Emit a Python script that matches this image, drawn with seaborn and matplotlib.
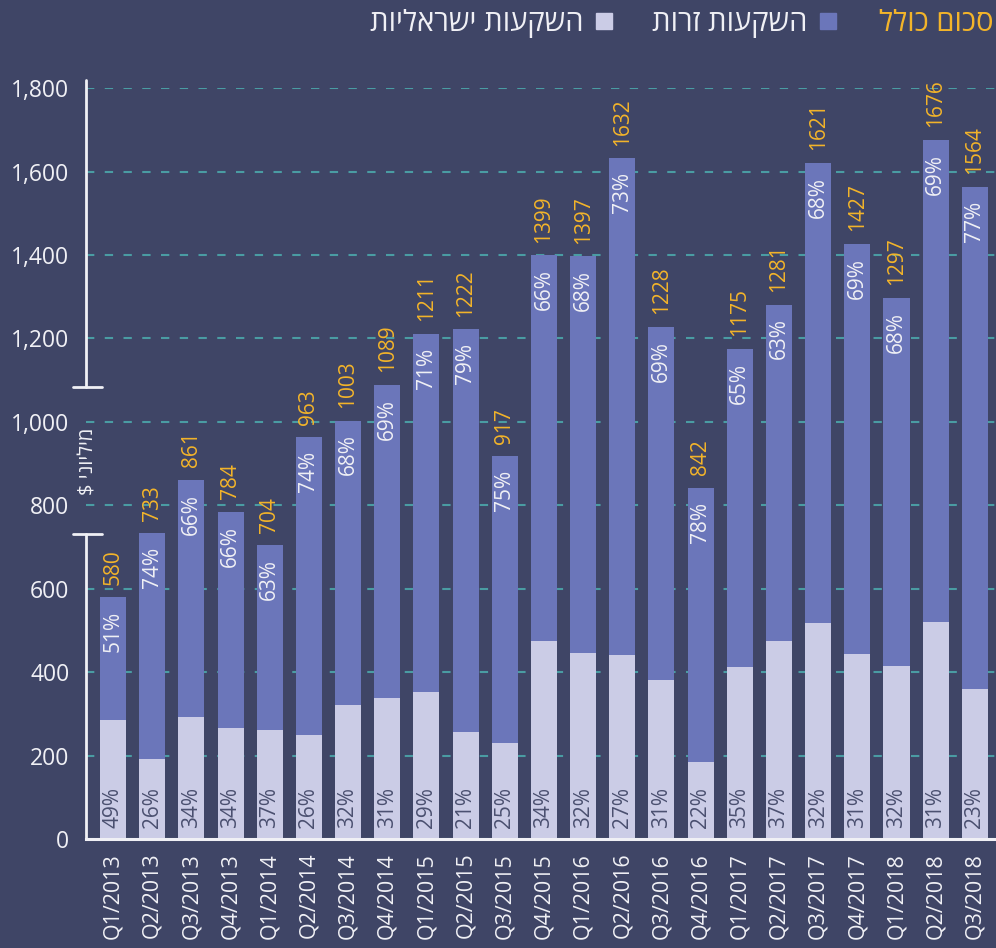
import numpy as np
import pandas as pd
import seaborn as sns
import matplotlib.pyplot as plt
from matplotlib.lines import Line2D

quarters = ['Q1/2013', 'Q2/2013', 'Q3/2013', 'Q4/2013', 'Q1/2014', 'Q2/2014', 'Q3/2014', 'Q4/2014',
            'Q1/2015', 'Q2/2015', 'Q3/2015', 'Q4/2015', 'Q1/2016', 'Q2/2016', 'Q3/2016', 'Q4/2016',
            'Q1/2017', 'Q2/2017', 'Q3/2017', 'Q4/2017', 'Q1/2018', 'Q2/2018', 'Q3/2018']
totals = [580, 733, 861, 784, 704, 963, 1003, 1089, 1211, 1222, 917, 1399,
          1397, 1632, 1228, 842, 1175, 1281, 1621, 1427, 1297, 1676, 1564]
foreign_pct = [51, 74, 66, 66, 63, 74, 68, 69, 71, 79, 75, 66,
               68, 73, 69, 78, 65, 63, 68, 69, 68, 69, 77]
israeli_pct = [49, 26, 34, 34, 37, 26, 32, 31, 29, 21, 25, 34,
               32, 27, 31, 22, 35, 37, 32, 31, 32, 31, 23]

label_total = 'סכום כולל'
label_foreign = 'השקעות זרות'
label_israeli = 'השקעות ישראליות'
label_y = 'מיליוני $'

df = pd.DataFrame({'quarter': quarters, 'total': totals,
                   'foreign_pct': foreign_pct, 'israeli_pct': israeli_pct})
df['israeli'] = df['total'] * df['israeli_pct'] / 100


def rtl(s):
    # matplotlib has no bidi support, so flip Hebrew to visual order
    return s[::-1]


bg = '#3f4566'
blue = '#6b76ba'
light = '#cbcce6'
orange = '#f3b42a'
grid = '#4a9ca3'
white = '#f0f0f5'
dark = '#4b5070'

sns.set_style('white')
plt.rcParams['font.family'] = ['Open Sans', 'DejaVu Sans']

fig = plt.figure(figsize=(9.96, 9.48), dpi=100, facecolor=bg)
ax = fig.add_axes([0.0863, 0.115, 0.9137, 0.792])
ax.set_facecolor(bg)

sns.barplot(data=df, x='quarter', y='total', color=blue, saturation=1, width=0.664,
            linewidth=0, edgecolor='none', ax=ax)
sns.barplot(data=df, x='quarter', y='israeli', color=light, saturation=1, width=0.664,
            linewidth=0, edgecolor='none', ax=ax)

ax.set_xlim(-0.69, 22.54)
ax.set_ylim(0, 1800)
ax.set_yticks(np.arange(0, 1801, 200))
ax.set_yticklabels([f'{v:,}' for v in range(0, 1801, 200)])
ax.set_xlabel('')
ax.set_ylabel('')

ax.set_axisbelow(True)
ax.yaxis.grid(True, color=grid, linestyle=(0, (4, 5)), linewidth=1.5)
ax.xaxis.grid(False)

for s in ['left', 'right', 'top']:
    ax.spines[s].set_visible(False)
ax.spines['bottom'].set_color(white)
ax.spines['bottom'].set_linewidth(2.2)

ax.tick_params(axis='y', length=0, pad=12, labelsize=16.5, labelcolor=white)
ax.tick_params(axis='x', length=0, pad=10, labelsize=15.5, labelcolor=white, rotation=90)

# broken left axis with the unit label in the gap
tr = ax.get_yaxis_transform()
ax.plot([0, 0], [1820, 1084], color=white, lw=2, transform=tr, clip_on=False)
ax.plot([0, 0], [732, 0], color=white, lw=2, transform=tr, clip_on=False)
ax.plot([-0.0143, 0.0176], [1084, 1084], color=white, lw=2, transform=tr, clip_on=False)
ax.plot([-0.0143, 0.0176], [732, 732], color=white, lw=2, transform=tr, clip_on=False)
ax.text(0.003, 905, rtl(label_y), transform=tr, rotation=90, ha='center', va='center',
        color=white, fontsize=14.5)

for i, row in df.iterrows():
    ax.annotate(f"{row['total']}", (i, row['total']), xytext=(0, 9), textcoords='offset points',
                rotation=90, ha='center', va='bottom', color=orange, fontsize=15, clip_on=False)
    ax.annotate(f"{row['foreign_pct']}%", (i, row['total']), xytext=(0, -10), textcoords='offset points',
                rotation=90, ha='center', va='top', color=white, fontsize=15)
    ax.annotate(f"{row['israeli_pct']}%", (i, 0), xytext=(0, 8), textcoords='offset points',
                rotation=90, ha='center', va='bottom', color=dark, fontsize=15)

# legend (right-to-left)
handles = [Line2D([], [], marker='s', linestyle='none', markersize=12, color=light),
           Line2D([], [], marker='s', linestyle='none', markersize=12, color=blue)]
leg = fig.legend(handles, [rtl(label_israeli), rtl(label_foreign)], ncol=2, markerfirst=False,
                 loc='center right', bbox_to_anchor=(0.862, 0.975), frameon=False,
                 fontsize=21, labelcolor=white, handlelength=0.7, handletextpad=0.35,
                 columnspacing=1.3, borderpad=0.2)
fig.text(0.997, 0.975, rtl(label_total), ha='right', va='center', color=orange, fontsize=21)

fig.savefig('out.png', dpi=100, facecolor=bg)
